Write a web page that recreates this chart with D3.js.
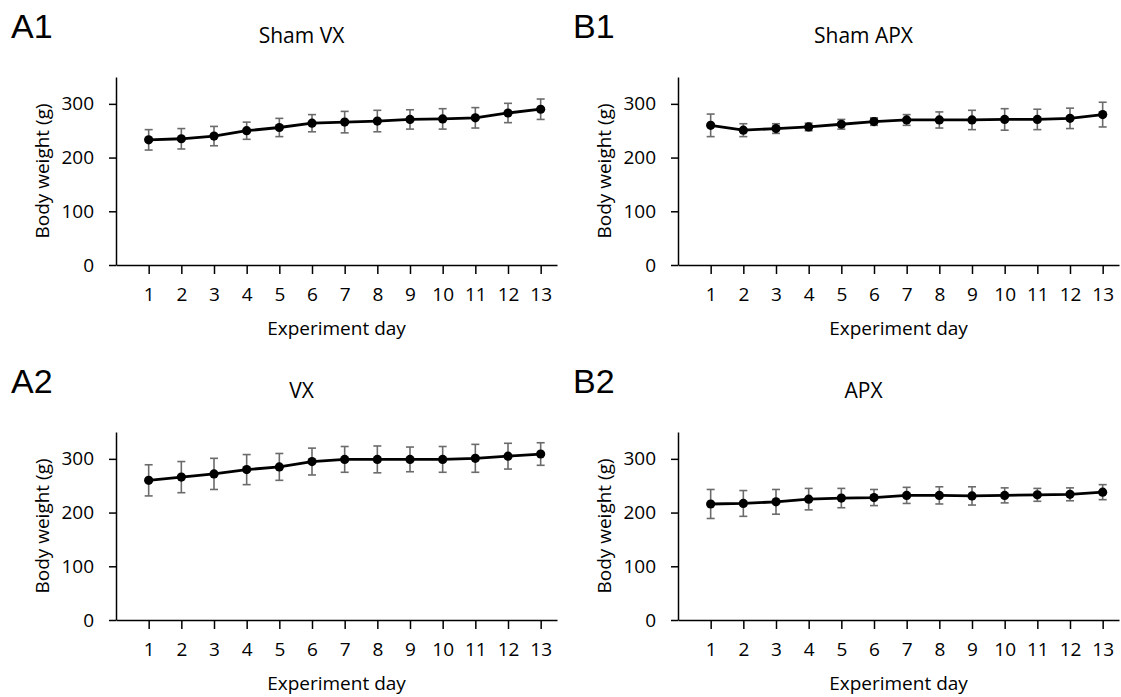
<!DOCTYPE html>
<html>
<head>
<meta charset="utf-8">
<script src="https://cdn.jsdelivr.net/npm/d3@7"></script>
<style>
  body { margin: 0; background: #fff; }
  svg { display: block; }
  .tick text { font-family: "Open Sans", Lato, sans-serif; }
</style>
</head>
<body>
<script>
// Data
const days = [1, 2, 3, 4, 5, 6, 7, 8, 9, 10, 11, 12, 13];
const yTicks = [0, 100, 200, 300];

const shamVxMean = [233, 235, 240, 250, 256, 264, 266, 268, 271, 272, 274, 283, 290];
const shamVxSd   = [19, 19, 18, 16, 17, 16, 20, 20, 18, 19, 19, 18, 19];

const shamApxMean = [260, 251, 254, 257, 262, 267, 270, 270, 270, 271, 271, 273, 280];
const shamApxSd   = [21, 12, 9, 7, 9, 7, 10, 15, 18, 20, 19, 19, 23];

const vxMean = [260, 266, 272, 280, 285, 295, 299, 299, 299, 299, 301, 305, 309];
const vxSd   = [29, 29, 29, 28, 25, 25, 24, 25, 23, 24, 26, 24, 21];

const apxMean = [216, 217, 220, 225, 227, 228, 232, 232, 231, 232, 233, 234, 238];
const apxSd   = [27, 24, 23, 20, 18, 15, 15, 16, 17, 14, 12, 12, 14];

// Layout
const W = 1121, H = 697;
const plotW = 441, plotH = 188;

const panels = [
  { tag: "A1", title: "Sham VX",  mean: shamVxMean,  sd: shamVxSd,  left: 116, top: 77 },
  { tag: "B1", title: "Sham APX", mean: shamApxMean, sd: shamApxSd, left: 678, top: 77 },
  { tag: "A2", title: "VX",       mean: vxMean,      sd: vxSd,      left: 116, top: 432 },
  { tag: "B2", title: "APX",      mean: apxMean,     sd: apxSd,     left: 678, top: 432 }
];

const svg = d3.select("body")
  .append("svg")
  .attr("width", W)
  .attr("height", H);

const x = d3.scaleLinear().domain([0, 13.5]).range([0, plotW]);
const y = d3.scaleLinear().domain([0, 350]).range([plotH, 0]);

const chartFont = "'Open Sans', Lato, sans-serif";

panels.forEach(function (p) {
  const g = svg.append("g")
    .attr("transform", "translate(" + p.left + "," + p.top + ")");

  // panel letter
  g.append("text")
    .attr("x", -105)
    .attr("y", -39)
    .attr("font-family", "'Liberation Sans', Arial, sans-serif")
    .attr("font-size", 34)
    .attr("fill", "#000")
    .text(p.tag);

  // title
  g.append("text")
    .attr("x", plotW / 2 - 35)
    .attr("y", -34)
    .attr("text-anchor", "middle")
    .attr("font-family", chartFont)
    .attr("font-size", 21)
    .text(p.title);

  // x axis
  const xAxis = g.append("g")
    .attr("transform", "translate(0," + plotH + ")")
    .call(d3.axisBottom(x).tickValues(days).tickSize(9).tickSizeOuter(0).tickPadding(14));
  xAxis.selectAll("text").attr("font-size", 19).attr("fill", "#000");

  // y axis
  const yAxis = g.append("g")
    .call(d3.axisLeft(y).tickValues(yTicks).tickSize(7).tickSizeOuter(0).tickPadding(15));
  yAxis.selectAll("text").attr("font-size", 19).attr("fill", "#000");

  g.selectAll(".domain, .tick line").attr("stroke", "#000").attr("stroke-width", 1.5);

  // axis titles
  g.append("text")
    .attr("x", plotW / 2)
    .attr("y", plotH + 70)
    .attr("text-anchor", "middle")
    .attr("font-family", chartFont)
    .attr("font-size", 19)
    .text("Experiment day");

  g.append("text")
    .attr("transform", "translate(-67," + (plotH / 2) + ") rotate(-90)")
    .attr("text-anchor", "middle")
    .attr("font-family", chartFont)
    .attr("font-size", 19)
    .text("Body weight (g)");

  const pts = days.map(function (d, i) { return { day: d, m: p.mean[i], s: p.sd[i] }; });

  // error bars
  const err = g.append("g").attr("stroke", "#6b6b6b").attr("stroke-width", 1.6);
  err.selectAll("line.v").data(pts).enter().append("line")
    .attr("x1", d => x(d.day)).attr("x2", d => x(d.day))
    .attr("y1", d => y(d.m + d.s)).attr("y2", d => y(d.m - d.s));
  err.selectAll("line.t").data(pts).enter().append("line")
    .attr("x1", d => x(d.day) - 4).attr("x2", d => x(d.day) + 4)
    .attr("y1", d => y(d.m + d.s)).attr("y2", d => y(d.m + d.s));
  err.selectAll("line.b").data(pts).enter().append("line")
    .attr("x1", d => x(d.day) - 4).attr("x2", d => x(d.day) + 4)
    .attr("y1", d => y(d.m - d.s)).attr("y2", d => y(d.m - d.s));

  // mean line
  const line = d3.line().x(d => x(d.day)).y(d => y(d.m));
  g.append("path")
    .datum(pts)
    .attr("d", line)
    .attr("fill", "none")
    .attr("stroke", "#000")
    .attr("stroke-width", 2.8);

  // dots
  g.selectAll("circle").data(pts).enter().append("circle")
    .attr("cx", d => x(d.day))
    .attr("cy", d => y(d.m))
    .attr("r", 4.6)
    .attr("fill", "#000");
});
</script>
</body>
</html>
